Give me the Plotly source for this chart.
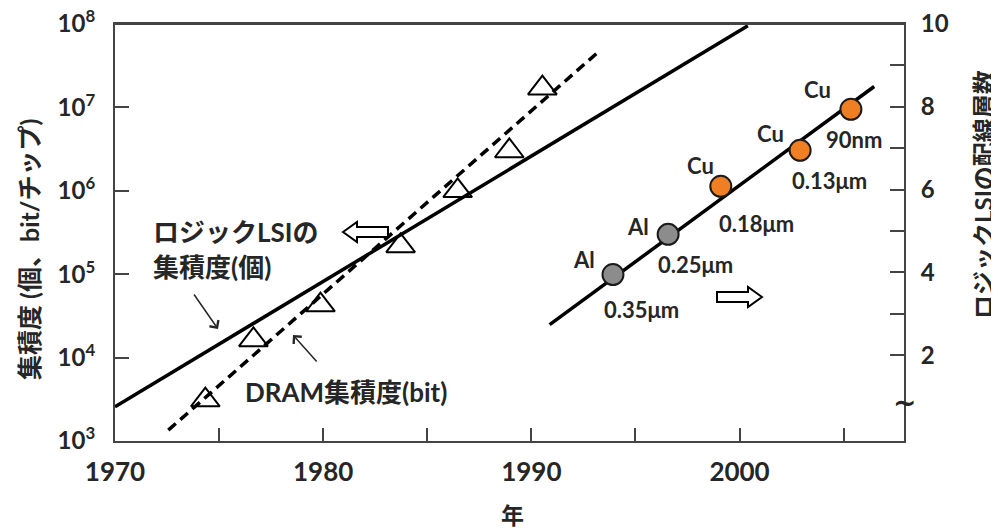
import plotly.graph_objects as go

# ---------------- data ----------------
# Logic LSI integration trend line (transistors / chip)
logic_years = [1970.0, 2000.4]
logic_counts = [10 ** 3.41, 10 ** 7.98]

# DRAM integration trend line (bits / chip)
dram_line_years = [1972.56, 1993.33]
dram_line_bits = [10 ** 3.13, 10 ** 7.69]

# DRAM data points (triangles)
dram_years = [1974.34, 1976.65, 1979.87, 1983.72, 1986.46, 1988.94, 1990.53]
dram_bits = [3.1e3, 1.63e4, 4.27e4, 2.18e5, 1.0e6, 3.0e6, 1.7e7]

# Interconnect layer trend line (right axis)
layer_line_years = [1990.88, 2006.47]
layer_line_counts = [2.74, 8.49]

# Interconnect layers of logic LSI (right axis)
al_years = [1993.92, 1996.57]
al_layers = [3.95, 4.92]
al_nodes = ["0.35μm", "0.25μm"]
cu_years = [1999.10, 2002.91, 2005.35]
cu_layers = [6.08, 6.95, 7.94]
cu_nodes = ["0.18μm", "0.13μm", "90nm"]

x_tick_vals = [1970, 1975, 1980, 1985, 1990, 1995, 2000, 2005]
x_tick_text = ["1970", "", "1980", "", "1990", "", "2000", ""]
y_tick_vals = [1e3, 1e4, 1e5, 1e6, 1e7, 1e8]
y_tick_text = ["10<sup>3</sup>", "10<sup>4</sup>", "10<sup>5</sup>",
               "10<sup>6</sup>", "10<sup>7</sup>", "10<sup>8</sup>"]
y2_tick_vals = [2, 3, 4, 5, 6, 7, 8, 9, 10]
y2_tick_text = ["2", "", "4", "", "6", "", "8", "", "10"]

# ---------------- style ----------------
# the page body has an 8px margin, so the figure is drawn 8px smaller
OFF = 8
W, H = 999 - OFF, 528 - OFF
PL, PR, PT, PB = 115, 904, 24, 441          # plot area in page pixels
ML, MR, MT, MB = PL - OFF, 999 - PR, PT - OFF, 528 - PB
FONT = "Lato, 'Noto Sans CJK JP', sans-serif"
TXT = "#262626"
AX = "#444444"
LW = 3.5


def px(x):
    return (x - PL) / (PR - PL)


def py(y):
    return (PB - y) / (PB - PT)


fig = go.Figure()

fig.add_trace(go.Scatter(x=logic_years, y=logic_counts, mode="lines",
                         line=dict(color="black", width=LW), showlegend=False))
fig.add_trace(go.Scatter(x=dram_line_years, y=dram_line_bits, mode="lines",
                         line=dict(color="black", width=LW, dash="10px,6px"),
                         showlegend=False))
fig.add_trace(go.Scatter(x=dram_years, y=dram_bits, mode="markers",
                         marker=dict(symbol="triangle-up-open", size=25, color="black",
                                     line=dict(width=2)),
                         showlegend=False))
fig.add_trace(go.Scatter(x=layer_line_years, y=layer_line_counts, mode="lines",
                         line=dict(color="black", width=LW), yaxis="y2",
                         showlegend=False))
fig.add_trace(go.Scatter(x=al_years, y=al_layers, mode="markers", yaxis="y2",
                         marker=dict(size=21, color="#8c8c8c",
                                     line=dict(color="#1a1a1a", width=2)),
                         showlegend=False))
fig.add_trace(go.Scatter(x=cu_years, y=cu_layers, mode="markers", yaxis="y2",
                         marker=dict(size=21, color="#f07f23",
                                     line=dict(color="#1a1a1a", width=2)),
                         showlegend=False))

annotations = []

# metal / node labels anchored to the data points (pixel offsets)
metal_off = [(-29, 15), (-30, 8), (-20, 21), (-30, 17), (-33, 20)]
node_off = [(29, -35), (27, -30), (36, -37), (29, -30), (3, -30)]
pts = list(zip(al_years, al_layers, ["Al"] * 2, al_nodes)) + \
    list(zip(cu_years, cu_layers, ["Cu"] * 3, cu_nodes))
for i, (xv, yv, metal, node) in enumerate(pts):
    annotations.append(dict(x=xv, y=yv, xref="x", yref="y2", text="<b>%s</b>" % metal,
                            showarrow=False, xshift=metal_off[i][0], yshift=metal_off[i][1],
                            xanchor="center", yanchor="middle",
                            font=dict(family=FONT, size=22, color=TXT)))
    annotations.append(dict(x=xv, y=yv, xref="x", yref="y2", text="<b>%s</b>" % node,
                            showarrow=False, xshift=node_off[i][0], yshift=node_off[i][1],
                            xanchor="center", yanchor="middle",
                            font=dict(family=FONT, size=22, color=TXT)))

# series labels
annotations += [
    dict(x=px(151), y=py(232), xref="paper", yref="paper", text="<b>ロジックLSIの</b>",
         showarrow=False, xanchor="left", yanchor="middle",
         font=dict(family=FONT, size=26, color=TXT)),
    dict(x=px(151), y=py(267), xref="paper", yref="paper", text="<b>集積度(個)</b>",
         showarrow=False, xanchor="left", yanchor="middle",
         font=dict(family=FONT, size=26, color=TXT)),
    dict(x=px(243), y=py(392), xref="paper", yref="paper", text="<b>DRAM集積度(bit)</b>",
         showarrow=False, xanchor="left", yanchor="middle",
         font=dict(family=FONT, size=26, color=TXT)),
    # pointer arrows
    dict(x=px(218), y=py(329), xref="paper", yref="paper", text="", showarrow=True,
         ax=-25, ay=-36, arrowhead=4, arrowsize=1.4, arrowwidth=1.5, arrowcolor=TXT),
    dict(x=px(293), y=py(335), xref="paper", yref="paper", text="", showarrow=True,
         ax=25, ay=28, arrowhead=4, arrowsize=1.4, arrowwidth=1.5, arrowcolor=TXT),
    # axis titles
    dict(x=px(29), y=py(250), xref="paper", yref="paper", text="<b>集積度 (個、bit/チップ)</b>",
         showarrow=False, textangle=-90, xanchor="center", yanchor="middle",
         font=dict(family=FONT, size=25, color=TXT)),
    dict(x=px(983), y=py(195), xref="paper", yref="paper", text="<b>ロジックLSIの配線層数</b>",
         showarrow=False, textangle=-90, xanchor="center", yanchor="middle",
         font=dict(family=FONT, size=24, color=TXT)),
    dict(x=px(512), y=py(515), xref="paper", yref="paper", text="<b>年</b>",
         showarrow=False, xanchor="center", yanchor="middle",
         font=dict(family=FONT, size=23, color=TXT)),
    # axis break mark
    dict(x=px(904), y=py(402), xref="paper", yref="paper", text="<b>~</b>",
         showarrow=False, xanchor="center", yanchor="middle",
         font=dict(family="DejaVu Sans", size=28, color=TXT)),
]


def poly(points):
    s = "M %f %f" % (px(points[0][0]), py(points[0][1]))
    for (a, b) in points[1:]:
        s += " L %f %f" % (px(a), py(b))
    return s + " Z"


left_arrow = [(343, 232), (357, 222), (357, 227), (388, 227), (388, 237), (357, 237), (357, 242)]
right_arrow = [(762, 297), (748, 287), (748, 292), (717, 292), (717, 302), (748, 302), (748, 307)]
shapes = [dict(type="line", xref="paper", yref="paper", x0=0, x1=1, y0=1, y1=1,
               line=dict(color=AX, width=2))]
for pts_ in (left_arrow, right_arrow):
    shapes.append(dict(type="path", xref="paper", yref="paper", path=poly(pts_),
                       fillcolor="white", line=dict(color="black", width=2)))

fig.update_layout(
    width=W, height=H,
    margin=dict(l=ML, r=MR, t=MT, b=MB, autoexpand=False),
    paper_bgcolor="white", plot_bgcolor="white",
    showlegend=False,
    annotations=annotations, shapes=shapes,
    xaxis=dict(range=[1970, 2007.9], tickmode="array", tickvals=x_tick_vals,
               ticktext=x_tick_text, ticks="inside", ticklen=13, tickwidth=2,
               tickcolor=AX, showline=True, linecolor=AX, linewidth=2, mirror=True,
               showgrid=False, zeroline=False, ticklabelstandoff=7, automargin=False,
               ticklabeloverflow="allow",
               tickfont=dict(family=FONT, size=26, color=TXT, weight="bold")),
    yaxis=dict(type="log", range=[3, 8], tickmode="array", tickvals=y_tick_vals,
               ticktext=y_tick_text, ticks="inside", ticklen=14, tickwidth=2,
               tickcolor=AX, showline=True, linecolor=AX, linewidth=2,
               showgrid=False, zeroline=False, ticklabelstandoff=13, automargin=False,
               ticklabeloverflow="allow",
               tickfont=dict(family=FONT, size=24, color=TXT, weight="bold")),
    yaxis2=dict(overlaying="y", side="right", range=[-0.07, 10], tickmode="array",
                tickvals=y2_tick_vals, ticktext=y2_tick_text, ticks="inside",
                ticklen=14, tickwidth=2, tickcolor=AX, showline=True, linecolor=AX,
                linewidth=2, showgrid=False, zeroline=False, ticklabelstandoff=10,
                automargin=False, ticklabeloverflow="allow",
                tickfont=dict(family=FONT, size=24, color=TXT, weight="bold")),
)

fig.write_html("out.html")
